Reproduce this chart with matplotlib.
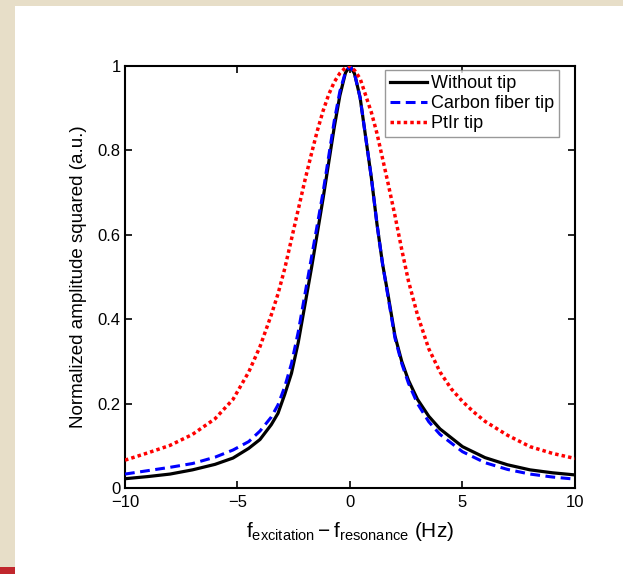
import matplotlib
matplotlib.use("Agg")
import matplotlib.pyplot as plt
from matplotlib.patches import Rectangle
from matplotlib.ticker import FixedLocator, FixedFormatter

plt.rcParams['font.family'] = ['Liberation Sans', 'DejaVu Sans']
plt.rcParams['mathtext.fontset'] = 'custom'
plt.rcParams['mathtext.rm'] = 'Liberation Sans'
plt.rcParams['mathtext.it'] = 'Liberation Sans'
plt.rcParams['mathtext.default'] = 'regular'

# ---- data ----
f_black = [-10, -9, -8, -7, -6, -5.2, -4.5, -4, -3.5, -3.2, -2.9, -2.6, -2.3, -2.0,
           -1.7, -1.45, -1.2, -0.95, -0.7, -0.45, -0.2, 0,
           0.2, 0.45, 0.7, 0.95, 1.2, 1.45, 1.7, 2.0, 2.3, 2.6, 3.0, 3.5, 4.0,
           5.0, 6.0, 7.0, 8.0, 9.0, 10]
v_black = [0.022, 0.027, 0.033, 0.043, 0.056, 0.071, 0.094, 0.115, 0.150, 0.177, 0.222,
           0.272, 0.345, 0.435, 0.525, 0.605, 0.685, 0.77, 0.855, 0.93, 0.984, 1.0,
           0.982, 0.925, 0.83, 0.735, 0.625, 0.53, 0.455, 0.36, 0.30, 0.255, 0.21,
           0.17, 0.14, 0.098, 0.072, 0.055, 0.043, 0.036, 0.031]

f_blue = [-10, -9, -8, -7, -6, -5.2, -4.5, -4, -3.5, -3.2, -2.9, -2.6, -2.3, -2.0,
          -1.7, -1.45, -1.2, -0.95, -0.7, -0.45, -0.2, 0,
          0.2, 0.45, 0.7, 0.95, 1.2, 1.45, 1.7, 2.0, 2.3, 2.6, 3.0, 3.5, 4.0,
          5.0, 6.0, 7.0, 8.0, 9.0, 10]
v_blue = [0.033, 0.041, 0.049, 0.058, 0.073, 0.090, 0.110, 0.135, 0.168, 0.197, 0.24,
          0.295, 0.37, 0.46, 0.55, 0.625, 0.70, 0.785, 0.87, 0.94, 0.986, 1.0,
          0.982, 0.925, 0.83, 0.735, 0.625, 0.53, 0.45, 0.355, 0.295, 0.248, 0.20,
          0.157, 0.127, 0.086, 0.060, 0.044, 0.033, 0.026, 0.021]

f_red = [-10, -9, -8, -7, -6, -5.2, -4.5, -4, -3.5, -3.2, -2.9, -2.6, -2.3, -2.0,
         -1.7, -1.45, -1.2, -0.95, -0.7, -0.45, -0.2, -0.05,
         0.2, 0.45, 0.7, 0.95, 1.2, 1.45, 1.7, 2.0, 2.3, 2.6, 3.0, 3.5, 4.0,
         4.5, 5.0, 5.5, 6.0, 7.0, 8.0, 9.0, 10]
v_red = [0.066, 0.083, 0.101, 0.127, 0.164, 0.21, 0.275, 0.335, 0.41, 0.46, 0.52,
         0.59, 0.66, 0.73, 0.795, 0.847, 0.893, 0.932, 0.962, 0.983, 0.996, 1.0,
         0.99, 0.97, 0.93, 0.89, 0.84, 0.78, 0.72, 0.645, 0.565, 0.49, 0.41,
         0.33, 0.275, 0.235, 0.205, 0.18, 0.158, 0.125, 0.098, 0.082, 0.070]

labels = ['Without tip', 'Carbon fiber tip', 'PtIr tip']
x_ticks = [-10, -5, 0, 5, 10]
x_ticklabels = ['\u221210', '\u22125', '0', '5', '10']
y_ticks = [0, 0.2, 0.4, 0.6, 0.8, 1.0]
y_ticklabels = ['0', '0.2', '0.4', '0.6', '0.8', '1']

W, H = 623, 574
fig = plt.figure(figsize=(W / 100, H / 100), dpi=100)
fig.patch.set_facecolor('white')

# page decoration (beige frame + red corner bar)
beige = '#E7DEC8'
fig.add_artist(Rectangle((0, 1 - 6 / H), 1, 6 / H, transform=fig.transFigure,
                         facecolor=beige, edgecolor='none', zorder=0))
fig.add_artist(Rectangle((0, 7 / H), 15 / W, 1, transform=fig.transFigure,
                         facecolor=beige, edgecolor='none', zorder=0))
fig.add_artist(Rectangle((0, 0), 15 / W, 7 / H, transform=fig.transFigure,
                         facecolor='#C1272D', edgecolor='none', zorder=0))

ax = fig.add_axes([125 / W, (H - 488) / H, 450 / W, 422 / H])
ax.plot(f_black, v_black, color='black', lw=2.3, solid_joinstyle='round',
        label=labels[0], zorder=3)
ax.plot(f_blue, v_blue, color='#0000FF', lw=2.2, dashes=(3.2, 1.8),
        label=labels[1], zorder=4)
ax.plot(f_red, v_red, color='#FF0000', lw=2.5, dashes=(1, 0.9),
        dash_capstyle='butt', label=labels[2], zorder=5)

ax.set_xlim(-10, 10)
ax.set_ylim(0, 1)
ax.xaxis.set_major_locator(FixedLocator(x_ticks))
ax.xaxis.set_major_formatter(FixedFormatter(x_ticklabels))
ax.yaxis.set_major_locator(FixedLocator(y_ticks))
ax.yaxis.set_major_formatter(FixedFormatter(y_ticklabels))
ax.tick_params(direction='in', length=5, width=1.2, top=True, right=True,
               labelsize=12, colors='black')
ax.tick_params(axis='y', pad=3)
ax.tick_params(axis='x', pad=5)
for s in ax.spines.values():
    s.set_linewidth(1.5)

ax.set_ylabel('Normalized amplitude squared (a.u.)', fontsize=13.5, labelpad=8)
ax.set_xlabel(r'$\mathregular{f_{excitation} - f_{resonance}}$ (Hz)', fontsize=15,
              labelpad=7)

leg = ax.legend(loc='upper right', bbox_to_anchor=(0.964, 0.9905), borderaxespad=0,
                fontsize=13, handlelength=2.05, handletextpad=0.2, labelspacing=0.17,
                fancybox=False, frameon=True, borderpad=0.28)
leg.get_frame().set_edgecolor('#808080')
leg.get_frame().set_linewidth(1.0)

fig.savefig('out.png', dpi=100, facecolor=fig.get_facecolor())
